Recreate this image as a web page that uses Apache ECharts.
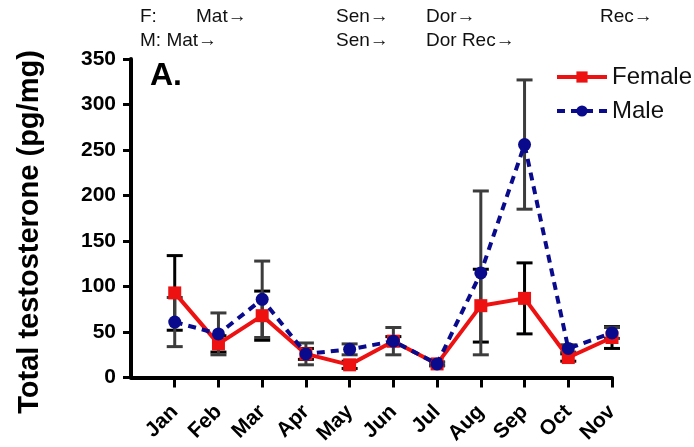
<!DOCTYPE html>
<html style="height: 100%">
<head>
  <meta charset="utf-8">
  <title>Total testosterone</title>
  <script src="https://cdn.jsdelivr.net/npm/echarts@6/dist/echarts.min.js"></script>
</head>
<body style="margin: 0; height: 100%">
  <div id="main" style="width: 694px; height: 447px"></div>
  <script>
    // months (index 0 is the empty slot at the origin)
    const months = ['', 'Jan', 'Feb', 'Mar', 'Apr', 'May', 'Jun', 'Jul', 'Aug', 'Sep', 'Oct', 'Nov'];
    const female = [93, 37, 68, 26, 14, 40, 15, 79, 87, 22, 44];
    const femaleErr = [41, 9, 27, 6, 4, 5, 2, 40, 39, 4, 12];
    const male = [61, 48, 86, 26, 31, 40, 15, 115, 256, 32, 49];
    const maleErr = [27, 23, 42, 12, 6, 15, 2, 90, 71, 4, 6];
    const yTicks = [0, 50, 100, 150, 200, 250, 300, 350];

    const FONT = "'Liberation Sans', Arial, sans-serif";
    const chart = echarts.init(document.getElementById('main'));

    function errData(vals, errs) {
      return vals.map((v, i) => [i + 1, v - errs[i], v + errs[i]]);
    }

    function errBars(color) {
      return function (params, api) {
        const x = api.value(0);
        const top = api.coord([x, api.value(2)]);
        const bot = api.coord([x, api.value(1)]);
        const w = 8;
        const st = { stroke: color, lineWidth: 3 };
        return {
          type: 'group',
          children: [
            { type: 'line', shape: { x1: top[0], y1: top[1], x2: bot[0], y2: bot[1] }, style: st },
            { type: 'line', shape: { x1: top[0] - w, y1: top[1], x2: top[0] + w, y2: top[1] }, style: st },
            { type: 'line', shape: { x1: bot[0] - w, y1: bot[1], x2: bot[0] + w, y2: bot[1] }, style: st }
          ]
        };
      };
    }

    const topText = (text, x, y) => ({
      type: 'text', left: x, top: y,
      style: { text, font: '19px ' + FONT, fill: '#111' }
    });

    chart.setOption({
      animation: false,
      grid: { left: 131, right: 82, top: 59, bottom: 69 },
      legend: {
        data: ['Female', 'Male'],
        orient: 'vertical',
        left: 550,
        top: 60,
        itemWidth: 50,
        itemHeight: 14,
        itemGap: 10,
        lineStyle: { width: 4 },
        textStyle: { fontFamily: FONT, fontSize: 24, color: '#111' }
      },
      xAxis: {
        type: 'category',
        data: months,
        boundaryGap: false,
        axisLine: { lineStyle: { color: '#000', width: 4 } },
        axisTick: { length: 10, lineStyle: { width: 3, color: '#000' }, interval: (i) => i !== 0 },
        axisLabel: {
          interval: 0, rotate: 45, margin: 31,
          fontFamily: FONT, fontWeight: 'bold', fontSize: 21, color: '#000'
        },
        splitLine: { show: false }
      },
      yAxis: {
        type: 'value',
        min: yTicks[0],
        max: yTicks[yTicks.length - 1],
        interval: 50,
        axisLine: { show: true, lineStyle: { color: '#000', width: 4 } },
        axisTick: { show: true, length: 8, lineStyle: { width: 3, color: '#000' } },
        axisLabel: { margin: 15, fontFamily: FONT, fontWeight: 'bold', fontSize: 21, color: '#000' },
        splitLine: { show: false }
      },
      graphic: [
        {
          type: 'text', x: 30, y: 232, rotation: Math.PI / 2,
          style: {
            text: 'Total testosterone (pg/mg)', font: 'bold 29px ' + FONT, fill: '#000',
            align: 'center', verticalAlign: 'middle'
          }
        },
        { type: 'text', left: 150, top: 60, style: { text: 'A.', font: 'bold 32px ' + FONT, fill: '#000' } },
        topText('F:', 140, 7),
        topText('Mat→', 196, 7),
        topText('Sen→', 336, 7),
        topText('Dor→', 426, 7),
        topText('Rec→', 600, 7),
        topText('M: Mat→', 140, 31),
        topText('Sen→', 336, 31),
        topText('Dor Rec→', 426, 31)
      ],
      series: [
        {
          name: 'Female err', type: 'custom', z: 1,
          renderItem: errBars('#000'),
          data: errData(female, femaleErr)
        },
        {
          name: 'Male err', type: 'custom', z: 1,
          renderItem: errBars('#3c3c3c'),
          data: errData(male, maleErr)
        },
        {
          name: 'Female', type: 'line', z: 3,
          data: female.map((v, i) => [i + 1, v]),
          symbol: 'rect', symbolSize: 13,
          itemStyle: { color: '#ee1111' },
          lineStyle: { color: '#ee1111', width: 4 }
        },
        {
          name: 'Male', type: 'line', z: 4,
          data: male.map((v, i) => [i + 1, v]),
          symbol: 'circle', symbolSize: 13,
          itemStyle: { color: '#0a0a8c' },
          lineStyle: { color: '#0a0a8c', width: 4, type: [8, 6] }
        }
      ]
    });
  </script>
</body>
</html>
